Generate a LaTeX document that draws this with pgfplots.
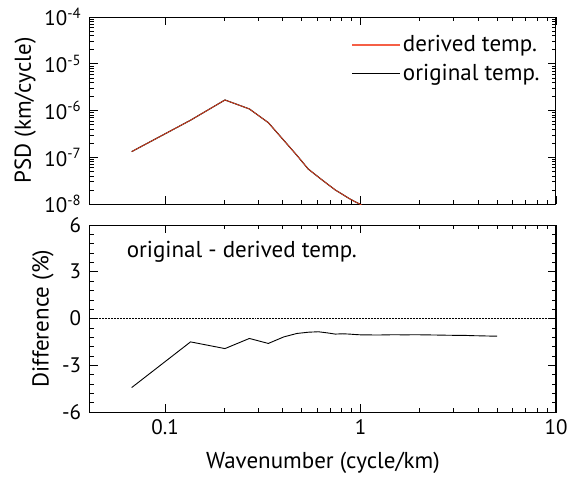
\documentclass[border=0pt]{standalone}
\usepackage{fontspec}
\setmainfont{PT Sans}
\usepackage{pgfplots}
\pgfplotsset{compat=1.18}
\definecolor{derived}{RGB}{230,65,30}
\definecolor{derivedkey}{RGB}{245,95,70}

\begin{document}
\fontsize{23}{27}\selectfont
\begin{tikzpicture}
\useasboundingbox (-90pt,-460pt) rectangle (477pt,17pt);

% top panel: spectra
\begin{axis}[
    scale only axis, width=466pt, height=187pt,
    at={(0pt,0pt)}, anchor=north west,
    xmode=log, xmin=0.0413, xmax=10,
    xtick={0.1,1,10}, xticklabels={},
    ymode=log, ymin=1e-8, ymax=1e-4,
    ytick={1e-8,1e-7,1e-6,1e-5,1e-4},
    yticklabels={10\textsuperscript{-8},10\textsuperscript{-7},10\textsuperscript{-6},10\textsuperscript{-5},10\textsuperscript{-4}},
    tick align=inside, tick pos=both,
    major tick length=8pt, minor tick length=4pt,
    axis line style={line width=1pt},
    tick style={black, line width=0.6pt},
    ticklabel style={font=\fontsize{21}{25}\selectfont},
    yticklabel style={xshift=-1pt},
    ylabel={PSD (km/cycle)},
    ylabel style={yshift=-7pt},
    legend style={at={(0.976,0.925)}, anchor=north east, draw=none, fill=none,
      legend cell align=left, row sep=5pt},
    legend image code/.code={\draw[#1] (0pt,0pt) -- (48pt,0pt);},
]
\addlegendimage{draw=derivedkey, line width=1.2pt}
\addlegendentry{derived temp.}
\addlegendimage{draw=black, line width=0.8pt}
\addlegendentry{original temp.}

\addplot[black, line width=1.1pt, forget plot] coordinates {
(0.0675,1.32e-7) (0.135,6.2e-7) (0.2025,1.68e-6) (0.27,1.08e-6)
(0.3375,5.5e-7) (0.405,2.3e-7) (0.4725,1.1e-7) (0.54,5.6e-8)
(0.6075,3.8e-8) (0.675,2.7e-8) (0.7425,2.0e-8) (0.81,1.6e-8)
(0.8775,1.3e-8) (0.945,1.1e-8) (1.0125,9.5e-9) (1.08,7e-9)
(1.215,4e-9) (1.35,2e-9)
};
\addplot[derived, line width=0.7pt, forget plot] coordinates {
(0.0675,1.32e-7) (0.135,6.2e-7) (0.2025,1.68e-6) (0.27,1.08e-6)
(0.3375,5.5e-7) (0.405,2.3e-7) (0.4725,1.1e-7) (0.54,5.6e-8)
(0.6075,3.8e-8) (0.675,2.7e-8) (0.7425,2.0e-8) (0.81,1.6e-8)
(0.8775,1.3e-8) (0.945,1.1e-8) (1.0125,9.5e-9) (1.08,7e-9)
(1.215,4e-9) (1.35,2e-9)
};
\end{axis}

% bottom panel: relative difference
\begin{axis}[
    scale only axis, width=466pt, height=187pt,
    at={(0pt,-208pt)}, anchor=north west,
    xmode=log, xmin=0.0413, xmax=10,
    xtick={0.1,1,10}, xticklabels={0.1,1,10},
    ymin=-6, ymax=6,
    ytick={-6,-3,0,3,6},
    yticklabels={-6,-3,0,3,6},
    minor y tick num=4,
    tick align=inside, tick pos=both,
    xticklabel pos=bottom, yticklabel pos=left,
    major tick length=8pt, minor tick length=4pt,
    axis line style={line width=1pt},
    tick style={black, line width=0.6pt},
    ticklabel style={font=\fontsize{21}{25}\selectfont},
    yticklabel style={xshift=-1pt},
    ylabel={Difference (\%)},
    ylabel style={yshift=-7pt},
    xlabel={Wavenumber (cycle/km)},
    xlabel style={yshift=-2pt},
]
\addplot[black, densely dotted, line width=0.5pt] coordinates {(0.0413,0) (10,0)};
\addplot[black, line width=0.9pt] coordinates {
(0.0675,-4.43) (0.135,-1.50) (0.2025,-1.93) (0.27,-1.28)
(0.3375,-1.60) (0.405,-1.18) (0.4725,-0.96) (0.54,-0.88)
(0.6075,-0.85) (0.675,-0.92) (0.7425,-1.00) (0.81,-0.98)
(0.8775,-1.00) (0.945,-1.03) (1.0125,-1.05) (1.08,-1.05)
(1.215,-1.06) (1.35,-1.05) (1.485,-1.04) (1.6875,-1.05)
(1.89,-1.04) (2.16,-1.05) (2.43,-1.06) (2.7,-1.07)
(3.0375,-1.08) (3.375,-1.08) (3.7125,-1.10) (4.05,-1.11)
(4.3875,-1.12) (4.725,-1.13) (4.995,-1.13)
};
\node[anchor=west] at (rel axis cs:0.062,0.856) {original - derived temp.};
\end{axis}
\end{tikzpicture}
\end{document}
